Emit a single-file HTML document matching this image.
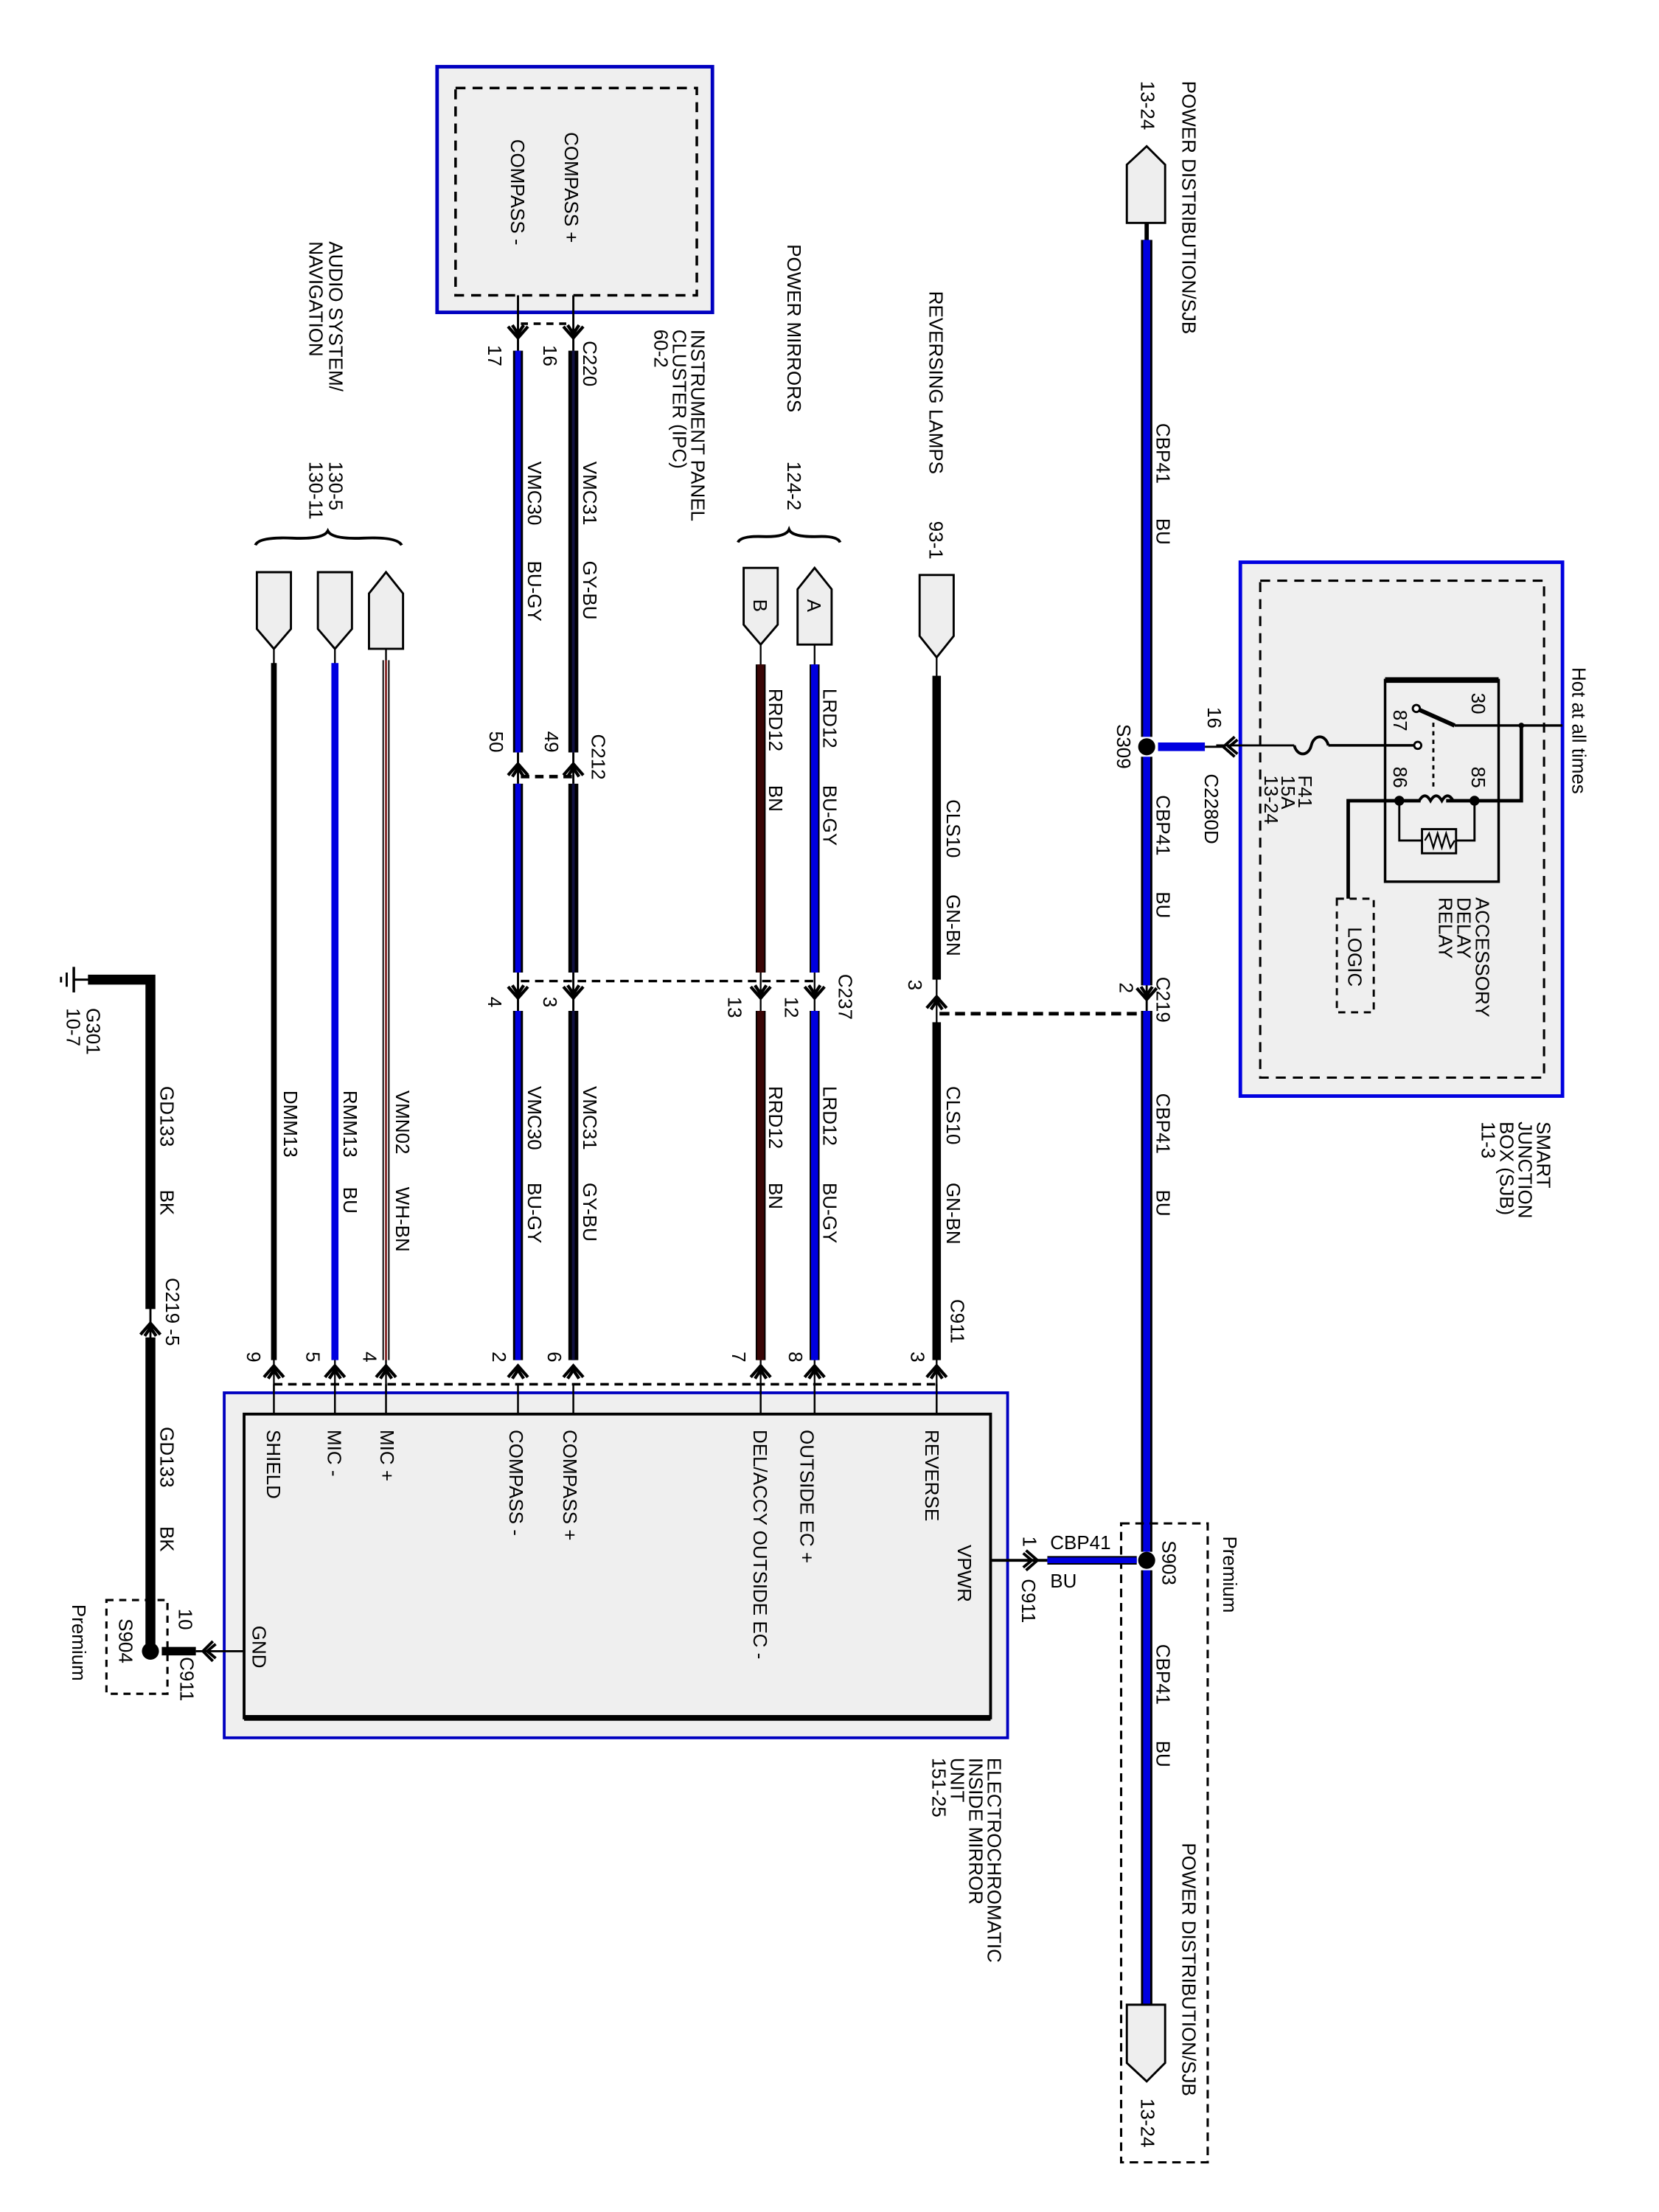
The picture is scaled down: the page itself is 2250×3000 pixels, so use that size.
<!DOCTYPE html>
<html><head><meta charset="utf-8"><style>
html,body{margin:0;padding:0;background:#fff}
svg{display:block}
text{font-family:"Liberation Sans",sans-serif;font-size:13.5px;fill:#000}
</style></head><body>
<svg width="2250" height="3000" viewBox="0 0 1169 1558" preserveAspectRatio="none" xmlns="http://www.w3.org/2000/svg">
<defs>
<g id="ad"><path d="M-7,-8 L0,0 L7,-8 M-4,-9 L0,-3 L4,-9" fill="none" stroke="#000" stroke-width="2.2"/></g>
<g id="au"><path d="M-7,8 L0,0 L7,8 M-4,9 L0,3 L4,9" fill="none" stroke="#000" stroke-width="2.2"/></g>
</defs>
<rect width="1169" height="1558" fill="#fff"/>

<!-- IPC box -->
<rect x="308" y="47" width="194" height="173" fill="#efefef" stroke="#0000c0" stroke-width="2.5"/>
<rect x="321" y="62" width="170" height="146" fill="none" stroke="#000" stroke-width="1.8" stroke-dasharray="7,5"/>
<text transform="translate(398,93) rotate(90)">COMPASS +</text>
<text transform="translate(360,98) rotate(90)">COMPASS -</text>
<line x1="365" y1="208" x2="365" y2="247" stroke="#000" stroke-width="1.5"/>
<line x1="404" y1="208" x2="404" y2="247" stroke="#000" stroke-width="1.5"/>
<line x1="367" y1="228" x2="403" y2="228" stroke="#000" stroke-width="1.8" stroke-dasharray="5,4"/>
<use href="#ad" x="365" y="238"/><use href="#ad" x="404" y="238"/>
<text transform="translate(344,243) rotate(90)">17</text>
<text transform="translate(383,243) rotate(90)">16</text>
<text transform="translate(411,240) rotate(90)">C220</text>
<text transform="translate(487,232) rotate(90)">INSTRUMENT PANEL</text>
<text transform="translate(474,232) rotate(90)">CLUSTER (IPC)</text>
<text transform="translate(461,232) rotate(90)">60-2</text>

<!-- VMC30 / VMC31 -->
<g>
<line x1="365" y1="247" x2="365" y2="530" stroke="#000" stroke-width="7"/><line x1="365" y1="247" x2="365" y2="530" stroke="#0000e0" stroke-width="4"/>
<line x1="404" y1="247" x2="404" y2="530" stroke="#000" stroke-width="7"/><line x1="404" y1="247" x2="404" y2="530" stroke="#101040" stroke-width="2"/>
<line x1="365" y1="530" x2="365" y2="552" stroke="#000" stroke-width="1.5"/>
<line x1="404" y1="530" x2="404" y2="552" stroke="#000" stroke-width="1.5"/>
<use href="#au" x="365" y="538"/><use href="#au" x="404" y="538"/>
<line x1="367" y1="547" x2="403" y2="547" stroke="#000" stroke-width="2.5" stroke-dasharray="6,4"/>
<line x1="365" y1="552" x2="365" y2="685" stroke="#000" stroke-width="7"/><line x1="365" y1="552" x2="365" y2="685" stroke="#0000e0" stroke-width="4"/>
<line x1="404" y1="552" x2="404" y2="685" stroke="#000" stroke-width="7"/><line x1="404" y1="552" x2="404" y2="685" stroke="#101040" stroke-width="2"/>
<line x1="365" y1="685" x2="365" y2="712" stroke="#000" stroke-width="1.5"/>
<line x1="404" y1="685" x2="404" y2="712" stroke="#000" stroke-width="1.5"/>
<use href="#ad" x="365" y="703"/><use href="#ad" x="404" y="703"/>
<line x1="365" y1="712" x2="365" y2="958" stroke="#000" stroke-width="7"/><line x1="365" y1="712" x2="365" y2="958" stroke="#0000e0" stroke-width="4"/>
<line x1="404" y1="712" x2="404" y2="958" stroke="#000" stroke-width="7"/><line x1="404" y1="712" x2="404" y2="958" stroke="#101040" stroke-width="2"/>
</g>
<text transform="translate(411,325) rotate(90)">VMC31</text><text transform="translate(411,395) rotate(90)">GY-BU</text>
<text transform="translate(372,325) rotate(90)">VMC30</text><text transform="translate(372,395) rotate(90)">BU-GY</text>
<text transform="translate(384,515) rotate(90)">49</text><text transform="translate(345,515) rotate(90)">50</text>
<text transform="translate(417,517) rotate(90)">C212</text>
<text transform="translate(411,765) rotate(90)">VMC31</text><text transform="translate(411,833) rotate(90)">GY-BU</text>
<text transform="translate(372,765) rotate(90)">VMC30</text><text transform="translate(372,833) rotate(90)">BU-GY</text>
<text transform="translate(383,702) rotate(90)">3</text><text transform="translate(344,702) rotate(90)">4</text>
<text transform="translate(513,702) rotate(90)">13</text><text transform="translate(553,702) rotate(90)">12</text>
<text transform="translate(591,686) rotate(90)">C237</text>
<line x1="367" y1="691" x2="574" y2="691" stroke="#000" stroke-width="1.8" stroke-dasharray="6,4"/>

<!-- Audio -->
<text transform="translate(232,170) rotate(90)">AUDIO SYSTEM/</text>
<text transform="translate(218,170) rotate(90)">NAVIGATION</text>
<text transform="translate(232,325) rotate(90)">130-5</text>
<text transform="translate(218,325) rotate(90)">130-11</text>
<path d="M180,384 Q182,378 206,379 Q228,380 231,374 Q234,380 256,379 Q280,378 283,384" fill="none" stroke="#000" stroke-width="2"/>
<path d="M181,403 H205 V443 L193,457 L181,443 Z" fill="#eee" stroke="#000" stroke-width="1.5"/>
<path d="M224,403 H248 V443 L236,457 L224,443 Z" fill="#eee" stroke="#000" stroke-width="1.5"/>
<path d="M260,457 H284 V418 L272,403 L260,418 Z" fill="#eee" stroke="#000" stroke-width="1.5"/>
<line x1="193" y1="457" x2="193" y2="1002" stroke="#000" stroke-width="1.2"/>
<line x1="236" y1="457" x2="236" y2="1002" stroke="#000" stroke-width="1.2"/>
<line x1="272" y1="457" x2="272" y2="1002" stroke="#000" stroke-width="1.2"/>
<line x1="193" y1="467" x2="193" y2="958" stroke="#000" stroke-width="4"/>
<line x1="236" y1="467" x2="236" y2="958" stroke="#0000e0" stroke-width="5"/>
<line x1="270" y1="465" x2="270" y2="958" stroke="#000" stroke-width="1"/>
<line x1="272" y1="465" x2="272" y2="958" stroke="#800000" stroke-width="1"/>
<line x1="274" y1="465" x2="274" y2="958" stroke="#000" stroke-width="1"/>
<text transform="translate(200,768) rotate(90)">DMM13</text>
<text transform="translate(242,768) rotate(90)">RMM13</text><text transform="translate(242,836) rotate(90)">BU</text>
<text transform="translate(279,768) rotate(90)">VMN02</text><text transform="translate(279,836) rotate(90)">WH-BN</text>

<!-- Power mirrors -->
<text transform="translate(555,172) rotate(90)">POWER MIRRORS</text>
<text transform="translate(555,325) rotate(90)">124-2</text>
<path d="M520,382 Q522,377 540,378 Q554,378 556,373 Q558,378 574,378 Q590,377 592,382" fill="none" stroke="#000" stroke-width="2"/>
<path d="M524,400 H548 V440 L536,454 L524,440 Z" fill="#eee" stroke="#000" stroke-width="1.5"/>
<path d="M562,454 H586 V415 L574,400 L562,415 Z" fill="#eee" stroke="#000" stroke-width="1.5"/>
<text transform="translate(531,422) rotate(90)">B</text>
<text transform="translate(569,422) rotate(90)">A</text>
<line x1="536" y1="454" x2="536" y2="1002" stroke="#000" stroke-width="1.2"/>
<line x1="574" y1="454" x2="574" y2="1002" stroke="#000" stroke-width="1.2"/>
<line x1="536" y1="468" x2="536" y2="685" stroke="#000" stroke-width="7"/><line x1="536" y1="468" x2="536" y2="685" stroke="#3a0606" stroke-width="5"/>
<line x1="574" y1="468" x2="574" y2="685" stroke="#000" stroke-width="7"/><line x1="574" y1="468" x2="574" y2="685" stroke="#0000e0" stroke-width="5"/>
<use href="#ad" x="536" y="703"/><use href="#ad" x="574" y="703"/>
<line x1="536" y1="712" x2="536" y2="958" stroke="#000" stroke-width="7"/><line x1="536" y1="712" x2="536" y2="958" stroke="#3a0606" stroke-width="5"/>
<line x1="574" y1="712" x2="574" y2="958" stroke="#000" stroke-width="7"/><line x1="574" y1="712" x2="574" y2="958" stroke="#0000e0" stroke-width="5"/>
<text transform="translate(580,485) rotate(90)">LRD12</text><text transform="translate(580,553) rotate(90)">BU-GY</text>
<text transform="translate(542,485) rotate(90)">RRD12</text><text transform="translate(542,553) rotate(90)">BN</text>
<text transform="translate(580,765) rotate(90)">LRD12</text><text transform="translate(580,833) rotate(90)">BU-GY</text>
<text transform="translate(542,765) rotate(90)">RRD12</text><text transform="translate(542,833) rotate(90)">BN</text>

<!-- Reversing -->
<text transform="translate(655,205) rotate(90)">REVERSING LAMPS</text>
<text transform="translate(655,367) rotate(90)">93-1</text>
<path d="M648,405 H672 V448 L660,463 L648,448 Z" fill="#eee" stroke="#000" stroke-width="1.5"/>
<line x1="660" y1="463" x2="660" y2="1002" stroke="#000" stroke-width="1.2"/>
<line x1="660" y1="476" x2="660" y2="690" stroke="#000" stroke-width="6"/>
<use href="#au" x="660" y="702"/>
<line x1="660" y1="720" x2="660" y2="958" stroke="#000" stroke-width="6"/>
<line x1="662" y1="714" x2="806" y2="714" stroke="#000" stroke-width="2.5" stroke-dasharray="7,4"/>
<text transform="translate(640,690) rotate(90)">3</text>
<text transform="translate(667,563) rotate(90)">CLS10</text><text transform="translate(667,630) rotate(90)">GN-BN</text>
<text transform="translate(667,765) rotate(90)">CLS10</text><text transform="translate(667,833) rotate(90)">GN-BN</text>
<text transform="translate(670,915) rotate(90)">C911</text>

<!-- module arrows -->
<line x1="193" y1="975" x2="660" y2="975" stroke="#000" stroke-width="1.8" stroke-dasharray="6,4"/>
<use href="#au" x="193" y="962"/><use href="#au" x="236" y="962"/><use href="#au" x="272" y="962"/>
<use href="#au" x="365" y="962"/><use href="#au" x="404" y="962"/><use href="#au" x="536" y="962"/>
<use href="#au" x="574" y="962"/><use href="#au" x="660" y="962"/>
<text transform="translate(174,952) rotate(90)">9</text><text transform="translate(216,952) rotate(90)">5</text>
<text transform="translate(256,952) rotate(90)">4</text><text transform="translate(347,952) rotate(90)">2</text>
<text transform="translate(386,952) rotate(90)">6</text><text transform="translate(516,952) rotate(90)">7</text>
<text transform="translate(556,952) rotate(90)">8</text><text transform="translate(642,952) rotate(90)">3</text>

<!-- Module -->
<rect x="158" y="981" width="552" height="243" fill="#efefef" stroke="#0000c0" stroke-width="2"/>
<rect x="172" y="996" width="526" height="214" fill="#efefef" stroke="#000" stroke-width="2"/>
<line x1="172" y1="1210" x2="698" y2="1210" stroke="#000" stroke-width="4"/>
<g stroke="#000" stroke-width="1.3">
<line x1="193" y1="975" x2="193" y2="996"/><line x1="236" y1="975" x2="236" y2="996"/><line x1="272" y1="975" x2="272" y2="996"/>
<line x1="365" y1="975" x2="365" y2="996"/><line x1="404" y1="975" x2="404" y2="996"/><line x1="536" y1="975" x2="536" y2="996"/>
<line x1="574" y1="975" x2="574" y2="996"/><line x1="660" y1="975" x2="660" y2="996"/>
</g>
<text transform="translate(188,1007) rotate(90)">SHIELD</text>
<text transform="translate(231,1007) rotate(90)">MIC -</text>
<text transform="translate(268,1007) rotate(90)">MIC +</text>
<text transform="translate(359,1007) rotate(90)">COMPASS -</text>
<text transform="translate(397,1007) rotate(90)">COMPASS +</text>
<text transform="translate(531,1007) rotate(90)">DEL/ACCY OUTSIDE EC -</text>
<text transform="translate(564,1007) rotate(90)">OUTSIDE EC +</text>
<text transform="translate(652,1007) rotate(90)">REVERSE</text>
<text transform="translate(675,1088) rotate(90)">VPWR</text>
<text transform="translate(178,1145) rotate(90)">GND</text>
<text transform="translate(696,1238) rotate(90)">ELECTROCHROMATIC</text>
<text transform="translate(683,1238) rotate(90)">INSIDE MIRROR</text>
<text transform="translate(670,1238) rotate(90)">UNIT</text>
<text transform="translate(657,1238) rotate(90)">151-25</text>

<!-- Ground -->
<path d="M62,690 H106 V1160" fill="none" stroke="#000" stroke-width="7"/>
<line x1="52" y1="690" x2="64" y2="690" stroke="#000" stroke-width="1.5"/>
<line x1="52" y1="681" x2="52" y2="699" stroke="#000" stroke-width="1.8"/>
<line x1="47" y1="685" x2="47" y2="695" stroke="#000" stroke-width="1.5"/>
<line x1="43" y1="688" x2="43" y2="692" stroke="#000" stroke-width="1.5"/>
<text transform="translate(61,710) rotate(90)">G301</text>
<text transform="translate(47,710) rotate(90)">10-7</text>
<rect x="100" y="922" width="12" height="20" fill="#fff"/>
<line x1="106" y1="920" x2="106" y2="945" stroke="#000" stroke-width="1.5"/>
<use href="#au" x="106" y="932"/>
<text transform="translate(113,765) rotate(90)">GD133</text><text transform="translate(113,838) rotate(90)">BK</text>
<text transform="translate(117,900) rotate(90)">C219 -5</text>
<text transform="translate(113,1005) rotate(90)">GD133</text><text transform="translate(113,1075) rotate(90)">BK</text>
<rect x="75" y="1127" width="43" height="66" fill="none" stroke="#000" stroke-width="1.6" stroke-dasharray="5,4"/>
<circle cx="106" cy="1163" r="6" fill="#000"/>
<line x1="114" y1="1163" x2="138" y2="1163" stroke="#000" stroke-width="6"/>
<line x1="138" y1="1163" x2="172" y2="1163" stroke="#000" stroke-width="1.5"/>
<path d="M150,1156 L143,1163 L150,1170 M152,1158 L146,1163 L152,1168" fill="none" stroke="#000" stroke-width="2"/>
<text transform="translate(126,1133) rotate(90)">10</text>
<text transform="translate(127,1167) rotate(90)">C911</text>
<text transform="translate(84,1140) rotate(90)">S904</text>
<text transform="translate(51,1130) rotate(90)">Premium</text>

<!-- SJB -->
<rect x="874" y="396" width="227" height="376" fill="#efefef" stroke="#0000e0" stroke-width="2.5"/>
<rect x="888" y="409" width="200" height="350" fill="none" stroke="#000" stroke-width="1.6" stroke-dasharray="7,5"/>
<text transform="translate(1108,470) rotate(90)">Hot at all times</text>
<text transform="translate(1083,790) rotate(90)">SMART</text>
<text transform="translate(1070,790) rotate(90)">JUNCTION</text>
<text transform="translate(1057,790) rotate(90)">BOX (SJB)</text>
<text transform="translate(1044,790) rotate(90)">11-3</text>
<rect x="976" y="479" width="80" height="142" fill="none" stroke="#000" stroke-width="1.8"/>
<line x1="976" y1="479" x2="1056" y2="479" stroke="#000" stroke-width="4"/>
<text transform="translate(1037,488) rotate(90)">30</text>
<text transform="translate(982,500) rotate(90)">87</text>
<text transform="translate(982,540) rotate(90)">86</text>
<text transform="translate(1037,540) rotate(90)">85</text>
<line x1="1025" y1="511" x2="1101" y2="511" stroke="#000" stroke-width="1.8"/>
<line x1="1025" y1="511" x2="998" y2="499" stroke="#000" stroke-width="3"/>
<circle cx="998" cy="499" r="2.5" fill="#fff" stroke="#000" stroke-width="1.5"/>
<circle cx="999" cy="525" r="2.5" fill="#fff" stroke="#000" stroke-width="1.5"/>
<line x1="1010" y1="509" x2="1010" y2="560" stroke="#000" stroke-width="1.5" stroke-dasharray="3,3"/>
<line x1="996" y1="525" x2="936" y2="525" stroke="#000" stroke-width="1.8"/>
<path d="M936,525 C934,517 926,517 924,525 C922,533 914,533 912,525" fill="none" stroke="#000" stroke-width="2"/>
<line x1="912" y1="525" x2="857" y2="525" stroke="#000" stroke-width="1.5"/>
<text transform="translate(915,546) rotate(90)">F41</text>
<text transform="translate(903,546) rotate(90)">15A</text>
<text transform="translate(891,546) rotate(90)">13-24</text>
<path d="M1072,511 V564 H950 V633" fill="none" stroke="#000" stroke-width="2.5"/>
<circle cx="1072" cy="511" r="2" fill="#000"/>
<rect x="1001" y="557" width="18" height="12" fill="#efefef"/>
<path d="M1000,564 q4,-7 8,0 q4,-7 8,0 q4,-7 8,0" fill="none" stroke="#000" stroke-width="2"/>
<circle cx="986" cy="564" r="3.5" fill="#000"/><circle cx="1039" cy="564" r="3.5" fill="#000"/>
<path d="M986,564 V592 H1002 M1026,592 H1039 V564" fill="none" stroke="#000" stroke-width="1.5"/>
<rect x="1002" y="584" width="24" height="17" fill="#efefef" stroke="#000" stroke-width="1.5"/>
<path d="M1004,592 l3,-5 3,10 3,-10 3,10 3,-10 3,10 3,-5" fill="none" stroke="#000" stroke-width="1.2"/>
<rect x="942" y="633" width="26" height="80" fill="#efefef" stroke="#000" stroke-width="1.5" stroke-dasharray="5,4"/>
<text transform="translate(950,653) rotate(90)">LOGIC</text>
<text transform="translate(1040,632) rotate(90)">ACCESSORY</text>
<text transform="translate(1027,632) rotate(90)">DELAY</text>
<text transform="translate(1014,632) rotate(90)">RELAY</text>

<!-- Main wire -->
<path d="M794,157 H821 V116 L808,103 L794,116 Z" fill="#eee" stroke="#000" stroke-width="1.5"/>
<text transform="translate(833,57) rotate(90)">POWER DISTRIBUTION/SJB</text>
<text transform="translate(804,57) rotate(90)">13-24</text>
<line x1="808" y1="157" x2="808" y2="170" stroke="#000" stroke-width="3"/>
<line x1="808" y1="169" x2="808" y2="694" stroke="#000" stroke-width="8"/>
<line x1="808" y1="169" x2="808" y2="694" stroke="#0000e0" stroke-width="5"/>
<line x1="808" y1="694" x2="808" y2="712" stroke="#000" stroke-width="1.5"/>
<use href="#ad" x="808" y="704"/>
<line x1="808" y1="712" x2="808" y2="1412" stroke="#000" stroke-width="8"/>
<line x1="808" y1="712" x2="808" y2="1412" stroke="#0000e0" stroke-width="5"/>
<rect x="802" y="519" width="12" height="3" fill="#fff"/><rect x="802" y="530" width="12" height="3" fill="#fff"/>
<circle cx="808" cy="526" r="6" fill="#000"/>
<line x1="816" y1="526" x2="849" y2="526" stroke="#0000e0" stroke-width="6"/>
<line x1="849" y1="526" x2="862" y2="526" stroke="#000" stroke-width="1.5"/>
<path d="M870,519 L862,526 L870,533 M872,521 L866,526 L872,531" fill="none" stroke="#000" stroke-width="2"/>
<text transform="translate(851,498) rotate(90)">16</text>
<text transform="translate(849,545) rotate(90)">C2280D</text>
<text transform="translate(787,510) rotate(90)">S309</text>
<text transform="translate(815,298) rotate(90)">CBP41</text><text transform="translate(815,365) rotate(90)">BU</text>
<text transform="translate(815,560) rotate(90)">CBP41</text><text transform="translate(815,628) rotate(90)">BU</text>
<text transform="translate(789,692) rotate(90)">2</text>
<text transform="translate(815,688) rotate(90)">C219</text>
<text transform="translate(815,770) rotate(90)">CBP41</text><text transform="translate(815,838) rotate(90)">BU</text>
<rect x="790" y="1073" width="61" height="450" fill="none" stroke="#000" stroke-width="1.6" stroke-dasharray="6,4"/>
<text transform="translate(862,1082) rotate(90)">Premium</text>
<rect x="802" y="1093" width="12" height="3" fill="#fff"/><rect x="802" y="1103" width="12" height="3" fill="#fff"/>
<circle cx="808" cy="1099" r="6" fill="#000"/>
<text transform="translate(819,1085) rotate(90)">S903</text>
<line x1="738" y1="1099" x2="801" y2="1099" stroke="#000" stroke-width="6"/>
<line x1="738" y1="1099" x2="801" y2="1099" stroke="#0000e0" stroke-width="4"/>
<line x1="698" y1="1099" x2="738" y2="1099" stroke="#000" stroke-width="2"/>
<path d="M723,1092 L731,1099 L723,1106 M721,1094 L727,1099 L721,1104" fill="none" stroke="#000" stroke-width="2"/>
<text x="740" y="1091">CBP41</text>
<text x="740" y="1118">BU</text>
<text transform="translate(721,1082) rotate(90)">1</text>
<text transform="translate(720,1112) rotate(90)">C911</text>
<text transform="translate(815,1158) rotate(90)">CBP41</text><text transform="translate(815,1226) rotate(90)">BU</text>
<path d="M794,1412 H821 V1453 L808,1466 L794,1453 Z" fill="#eee" stroke="#000" stroke-width="1.5"/>
<text transform="translate(833,1298) rotate(90)">POWER DISTRIBUTION/SJB</text>
<text transform="translate(804,1478) rotate(90)">13-24</text>
</svg>
</body></html>
